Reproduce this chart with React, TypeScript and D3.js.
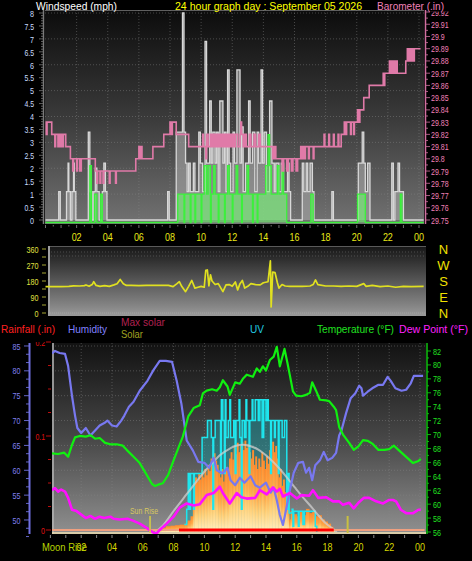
import React from 'react';
import * as d3 from 'd3';

const W = 472;
const H = 561;
const FONT = '"Liberation Sans", Arial, sans-serif';

// ---------- axis ticks / labels ----------
const hourTicks = [2, 4, 6, 8, 10, 12, 14, 16, 18, 20, 22, 24];
const hourLabels = ['02', '04', '06', '08', '10', '12', '14', '16', '18', '20', '22', '00'];
const windTicks = [0, 0.5, 1, 1.5, 2, 2.5, 3, 3.5, 4, 4.5, 5, 5.5, 6, 6.5, 7, 7.5, 8];
const baroTicks = [29.75, 29.76, 29.77, 29.78, 29.79, 29.8, 29.81, 29.82, 29.83, 29.84, 29.85, 29.86, 29.87, 29.88, 29.89, 29.9, 29.91, 29.92];
const dirTicks = [0, 90, 180, 270, 360];
const compassLabels = ['N', 'W', 'S', 'E', 'N'];
const humTicks = [50, 55, 60, 65, 70, 75, 80, 85];
const tempTicks = [56, 58, 60, 62, 64, 66, 68, 70, 72, 74, 76, 78, 80, 82];
const rainTicks = [0, 0.1, 0.2];
const sunTimes = [6.47, 19.3];

// ---------- top panel: wind gust (grey), wind speed (green), barometer (pink) ----------
const gustSteps: [number, number][] = [
  [0, 0], [0.85, 1.1], [0.95, 0], [1.35, 1.1], [1.45, 2.2], [1.5, 1.1], [1.6, 0], [1.7, 1.1], [1.8, 2.2], [1.85, 1.1], [1.95, 0],
  [2.75, 3.4], [2.85, 1.1], [3.0, 0], [3.1, 1.1], [3.2, 2.0], [3.3, 1.1], [3.45, 0], [3.65, 1.1], [3.75, 2.2], [3.85, 1.1], [3.95, 0],
  [7.85, 1.1], [7.95, 0],
  [8.4, 3.4], [8.8, 8], [8.9, 3.4], [9.0, 2.2], [9.1, 1.1], [9.2, 2.2], [9.3, 1.1], [9.5, 2.2], [9.6, 1.1], [9.85, 3.4], [9.95, 2.2],
  [10.1, 1.1], [10.25, 6.9], [10.35, 2.2], [10.55, 4.6], [10.65, 2.2], [10.75, 3.4], [10.9, 2.2], [11.0, 3.4], [11.1, 1.1], [11.2, 4.6],
  [11.4, 2.2], [11.5, 3.4], [11.6, 1.1], [11.7, 5.8], [11.8, 2.2], [11.9, 1.1], [12.05, 3.4], [12.15, 2.2], [12.3, 5.8], [12.5, 2.2],
  [12.6, 3.6], [12.7, 1.1], [12.85, 2.2], [13.05, 4.6], [13.15, 2.2], [13.3, 3.4], [13.45, 1.1], [13.6, 3.4], [13.7, 2.2], [13.85, 5.8],
  [13.95, 2.2], [14.05, 3.4], [14.2, 1.1], [14.4, 4.6], [14.55, 2.2], [14.7, 1.1], [14.8, 2.2], [15.0, 1.1], [15.15, 2.2], [15.3, 1.1],
  [15.55, 2.2], [15.65, 1.1], [15.75, 0],
  [16.5, 2.2], [16.6, 1.1], [16.75, 2.2], [16.85, 1.1], [17.0, 2.2], [17.15, 1.1], [17.25, 0],
  [18.4, 1.1], [18.5, 0],
  [20.1, 2.2], [20.35, 3.4], [20.45, 2.2], [20.55, 1.1], [20.7, 2.2], [20.85, 0],
  [22.25, 2.2], [22.35, 0], [22.45, 1.1], [22.65, 2.2], [22.75, 1.1], [23.0, 0], [24.3, 0],
];

const speedSteps: [number, number][] = [
  [0, 0], [2.85, 2.2], [2.95, 0], [3.15, 1.1], [3.3, 0], [3.55, 1.1], [3.65, 0],
  [8.5, 1.1], [8.9, 0], [8.95, 1.1], [9.3, 0], [9.35, 1.1], [9.6, 0], [9.65, 1.1], [10.0, 0], [10.05, 1.1], [10.2, 2.2], [10.35, 1.1],
  [10.45, 2.2], [10.6, 0], [10.65, 1.1], [10.8, 2.2], [10.9, 1.1], [11.1, 0], [11.15, 1.1], [11.5, 0], [11.55, 1.1], [11.7, 2.2],
  [11.8, 1.1], [12.0, 0], [12.05, 1.1], [12.25, 2.2], [12.35, 1.1], [12.6, 0], [12.65, 1.1], [12.95, 2.2], [13.05, 1.1], [13.3, 0],
  [13.35, 1.1], [13.6, 0], [13.65, 1.1], [14.15, 2.2], [14.3, 3.4], [14.4, 2.2], [14.5, 1.1], [14.9, 2.2], [15.0, 1.1], [15.2, 2.2],
  [15.3, 1.1], [15.5, 0],
  [17.05, 1.1], [17.2, 0], [20.05, 1.1], [20.55, 0], [22.8, 1.1], [22.9, 0], [24.3, 0],
];

const baroSteps: [number, number][] = [
  [0, 29.83], [0.05, 29.82], [0.1, 29.83], [0.4, 29.82], [0.6, 29.81], [0.65, 29.82], [0.8, 29.81], [0.85, 29.82], [0.95, 29.81],
  [1.0, 29.82], [1.1, 29.81], [1.15, 29.82], [1.3, 29.81], [1.6, 29.8], [1.75, 29.79], [1.8, 29.8], [2.0, 29.79], [2.05, 29.8],
  [2.2, 29.79], [2.3, 29.8], [3.2, 29.79], [3.3, 29.78], [3.35, 29.79], [3.5, 29.78], [3.55, 29.79], [3.7, 29.78], [3.75, 29.79],
  [4.1, 29.78], [4.15, 29.79], [4.5, 29.78], [4.55, 29.79], [5.8, 29.8], [6.0, 29.81], [6.05, 29.8], [6.15, 29.81], [6.2, 29.8],
  [6.9, 29.81], [7.6, 29.82], [8.0, 29.83], [8.1, 29.82], [8.15, 29.83], [8.4, 29.82], [9.2, 29.81], [10.1, 29.82], [10.15, 29.81],
  [10.3, 29.8], [10.35, 29.82], [10.45, 29.81], [10.6, 29.82], [10.7, 29.81], [10.8, 29.82], [10.9, 29.81], [11.0, 29.82],
  [11.1, 29.81], [11.2, 29.82], [11.3, 29.81], [11.4, 29.82], [11.5, 29.81], [11.6, 29.82], [11.7, 29.81], [11.8, 29.82],
  [11.9, 29.81], [12.0, 29.82], [12.1, 29.81], [12.2, 29.82], [12.35, 29.81], [12.5, 29.82], [12.55, 29.83], [12.6, 29.82],
  [12.7, 29.81], [12.8, 29.82], [12.9, 29.81], [13.1, 29.82], [13.2, 29.81], [13.4, 29.82], [13.5, 29.81], [13.7, 29.82],
  [13.8, 29.81], [14.6, 29.8], [14.7, 29.81], [14.8, 29.8], [15.2, 29.79], [15.3, 29.8], [15.5, 29.79], [15.6, 29.8],
  [15.8, 29.79], [15.9, 29.8], [16.1, 29.79], [16.2, 29.8], [16.4, 29.81], [16.45, 29.8], [16.55, 29.81], [16.6, 29.8],
  [16.7, 29.81], [16.9, 29.8], [16.95, 29.81], [17.2, 29.8], [17.25, 29.81], [17.9, 29.82], [17.95, 29.81], [18.2, 29.82],
  [18.25, 29.81], [18.5, 29.82], [18.55, 29.81], [18.8, 29.82], [18.85, 29.81], [19.0, 29.82], [19.2, 29.83], [19.3, 29.82],
  [19.35, 29.83], [19.6, 29.82], [19.65, 29.83], [19.8, 29.82], [19.85, 29.83], [20.05, 29.84], [20.15, 29.83], [20.2, 29.84],
  [20.45, 29.85], [20.8, 29.86], [21.7, 29.87], [21.75, 29.86], [21.8, 29.87], [22.1, 29.88], [22.15, 29.87], [22.25, 29.88],
  [22.3, 29.87], [22.4, 29.88], [22.45, 29.87], [22.55, 29.88], [22.6, 29.87], [23.15, 29.88], [23.25, 29.89], [23.3, 29.88],
  [23.4, 29.89], [23.45, 29.88], [23.55, 29.89], [23.6, 29.88], [23.7, 29.89], [24.1, 29.89],
];

// ---------- middle panel: wind direction ----------
const windDir: [number, number][] = [
  [0, 148], [0.5, 148], [1.0, 148], [1.5, 150], [1.8, 153], [2.2, 152], [2.5, 154], [2.6, 158], [2.8, 150], [3.0, 160], [3.1, 176],
  [3.25, 155], [3.5, 150], [3.8, 154], [4.1, 150], [4.4, 158], [4.6, 165], [4.8, 189], [5.0, 165], [5.2, 155], [5.5, 155], [6.0, 154],
  [6.5, 155], [7.0, 155], [7.5, 155], [7.9, 155], [8.2, 148], [8.45, 165], [8.6, 176], [8.75, 150], [9.0, 120], [9.2, 150], [9.4, 183],
  [9.6, 140], [9.8, 145], [10.0, 150], [10.2, 145], [10.3, 240], [10.4, 242], [10.5, 152], [10.6, 215], [10.7, 180], [10.9, 160],
  [11.1, 165], [11.4, 120], [11.6, 158], [11.8, 160], [12.0, 150], [12.2, 175], [12.35, 130], [12.5, 165], [12.65, 183], [12.8, 140],
  [13.0, 150], [13.2, 165], [13.5, 160], [13.8, 158], [14.0, 170], [14.3, 176], [14.45, 294], [14.5, 34], [14.6, 230], [14.75, 227],
  [14.9, 170], [15.0, 140], [15.2, 160], [15.4, 152], [15.7, 150], [16.0, 150], [16.5, 150], [17.0, 152], [17.2, 160], [17.35, 186],
  [17.5, 160], [18.0, 152], [18.5, 152], [19.0, 150], [19.5, 152], [20.0, 150], [20.45, 165], [20.6, 150], [21.0, 155], [21.5, 148],
  [22.0, 152], [22.5, 145], [23.0, 150], [23.5, 148], [24.3, 150],
];

// ---------- bottom panel ----------
const humidity: [number, number][] = [
  [0.1, 83.5], [0.3, 84], [0.6, 83.6], [0.95, 83.4], [1.15, 81], [1.4, 75], [1.6, 71], [1.75, 68.5], [2.0, 67.5], [2.3, 68.5],
  [2.6, 67], [2.9, 68], [3.2, 69], [3.5, 69.5], [3.7, 70], [4.0, 69], [4.3, 68.8], [4.6, 70], [4.8, 71], [5.1, 72.8], [5.4, 73.8],
  [5.8, 76], [6.3, 78], [6.7, 80.2], [7.1, 82], [7.5, 82], [7.9, 81.8], [8.2, 78], [8.5, 73.5], [8.85, 66], [9.25, 64], [9.6, 61.7],
  [10.0, 61.5], [10.3, 60.5], [10.6, 62.5], [10.8, 60], [11.2, 59.4], [11.5, 60.5], [11.7, 58], [12.0, 57], [12.3, 58.5],
  [12.6, 57.5], [13.0, 58.8], [13.3, 57], [13.6, 56.5], [14.0, 57.5], [14.3, 55.5], [14.5, 56.5], [14.7, 54], [14.9, 51],
  [15.1, 49], [15.3, 52], [15.55, 56], [15.8, 59.5], [16.1, 61.5], [16.4, 61.7], [16.6, 59.5], [16.8, 60.5], [17.0, 58],
  [17.2, 61], [17.5, 62], [17.75, 63.7], [18.0, 62], [18.3, 62.5], [18.55, 63.5], [18.75, 67], [18.9, 68], [19.2, 71.5],
  [19.5, 74.5], [19.8, 75.5], [20.05, 77], [20.2, 76.5], [20.3, 75], [20.6, 75.8], [20.9, 76.5], [21.3, 77.2], [21.6, 77.2],
  [21.9, 78.8], [22.1, 78], [22.4, 76.5], [22.8, 76], [23.1, 76.2], [23.4, 77.5], [23.6, 79], [24.2, 79],
];

const temperature: [number, number][] = [
  [0.1, 67.3], [0.5, 67.2], [0.9, 67.4], [1.15, 66.8], [1.4, 68.5], [1.6, 69.6], [1.9, 69.8], [2.3, 69.7], [2.6, 69.9], [2.9, 69.4],
  [3.2, 69.5], [3.55, 68.8], [3.9, 68.6], [4.3, 68.6], [4.7, 68.4], [4.95, 67.8], [5.4, 66.8], [5.8, 65.9], [6.25, 64.2],
  [6.6, 62.9], [6.8, 62.6], [7.0, 62.8], [7.3, 63.0], [7.65, 64.2], [7.95, 66], [8.3, 68], [8.6, 69.7], [8.95, 72.6], [9.3, 73.8],
  [9.7, 74.2], [9.9, 75.9], [10.15, 76.3], [10.5, 76.5], [10.8, 76.3], [11.0, 76.8], [11.2, 77.8], [11.5, 76.9], [11.65, 75.7],
  [12.0, 77.5], [12.3, 77.3], [12.5, 78.0], [12.75, 78.6], [13.15, 78.3], [13.4, 79.5], [13.6, 79.0], [13.8, 79.8], [14.0, 79.2],
  [14.25, 80.7], [14.5, 81.2], [14.7, 82.6], [14.9, 79.8], [15.2, 82.3], [15.4, 80.2], [15.55, 78.5], [15.75, 76.2], [15.95, 75.6],
  [16.3, 75.5], [16.6, 75.7], [16.85, 76.0], [17.0, 77.5], [17.25, 76.3], [17.5, 75.0], [17.9, 74.9], [18.1, 74.8], [18.4, 74.0],
  [18.55, 73.5], [18.75, 71.1], [19.0, 70.0], [19.4, 68.8], [19.7, 67.8], [20.0, 68.3], [20.3, 69.2], [20.6, 69.1], [20.9, 68.7],
  [21.3, 67.8], [21.7, 67.8], [22.0, 67.9], [22.3, 68.4], [22.6, 67.8], [23.1, 66.8], [23.55, 65.9], [23.9, 66.2], [24.05, 66.5],
];

const dewPoint: [number, number][] = [
  [0.1, 62.0], [0.3, 62.3], [0.5, 61.8], [0.7, 62.1], [0.95, 61.8], [1.15, 60.9], [1.4, 59.2], [1.7, 59.0], [2.0, 58.5], [2.3, 58.0],
  [2.6, 58.3], [2.9, 57.9], [3.2, 58.2], [3.5, 58.0], [3.9, 58.2], [4.1, 57.9], [4.5, 57.8], [5.0, 57.9], [5.4, 57.6], [5.8, 57.2],
  [6.25, 56.6], [6.7, 55.9], [6.9, 55.8], [7.1, 56.3], [7.55, 57.2], [8.0, 58.2], [8.4, 59.5], [8.85, 60.1], [9.3, 59.8], [9.7, 60.0],
  [10.15, 61.3], [10.6, 61.6], [11.0, 62.5], [11.2, 61.6], [11.65, 60.1], [12.1, 61.6], [12.4, 61.0], [12.75, 60.8], [13.3, 60.9],
  [13.6, 62.0], [14.05, 61.4], [14.45, 62.4], [14.7, 61.8], [14.9, 62.2], [15.1, 61.1], [15.55, 61.6], [16.0, 60.8], [16.3, 61.3],
  [16.8, 61.2], [17.05, 62.0], [17.4, 60.9], [17.9, 61.0], [18.35, 60.4], [18.75, 60.4], [19.0, 59.9], [19.4, 60.2], [19.7, 59.4],
  [20.0, 60.2], [20.35, 60.9], [20.7, 60.9], [21.15, 60.4], [21.6, 60.1], [22.0, 60.6], [22.25, 60.6], [22.45, 60.4], [22.75, 59.2],
  [23.1, 58.7], [23.55, 58.7], [23.9, 59.2], [24.05, 59.2],
];

const uvSteps: [number, number][] = [
  [0, 0], [8.7, 0.4], [8.85, 1.2], [8.95, 3.1], [9.05, 1.2], [9.1, 3.1], [9.3, 1.2], [9.35, 3.1], [9.85, 5.0], [10.2, 5.9],
  [10.45, 5.0], [10.55, 1.2], [10.6, 5.0], [10.7, 5.9], [11.05, 3.1], [11.1, 7.0], [11.2, 5.9], [11.3, 3.1], [11.35, 7.0],
  [11.4, 5.0], [11.55, 5.9], [11.65, 7.0], [11.7, 5.0], [11.9, 5.9], [12.0, 3.1], [12.05, 5.9], [12.25, 7.0], [12.3, 5.0],
  [12.4, 1.2], [12.45, 5.9], [12.6, 5.0], [12.7, 7.0], [12.75, 5.9], [12.9, 3.1], [12.95, 5.9], [13.1, 7.0], [13.15, 5.9],
  [13.3, 7.0], [13.5, 5.9], [13.6, 7.0], [13.75, 5.0], [13.85, 7.0], [14.0, 5.9], [14.1, 7.0], [14.15, 5.9], [14.3, 3.1],
  [14.35, 5.9], [14.55, 5.0], [14.6, 5.9], [14.8, 3.1], [14.85, 5.9], [15.05, 5.0], [15.2, 5.9], [15.35, 1.2], [15.45, 3.1],
  [15.5, 1.0], [15.7, 1.2], [15.75, 0.3], [15.8, 1.1], [16.1, 0.3], [16.15, 1.1], [16.4, 0.4], [16.5, 1.1], [17.2, 0.3], [17.3, 0],
  [24.3, 0],
];

const solar: [number, number][] = [
  [6.9, 20], [7.2, 40], [7.5, 55], [7.8, 60], [8.1, 65], [8.4, 70], [8.7, 80], [8.9, 110], [9.1, 150], [9.25, 300], [9.35, 520],
  [9.5, 480], [9.6, 560], [9.7, 500], [9.8, 590], [9.9, 520], [10.0, 600], [10.1, 540], [10.2, 640], [10.3, 580], [10.4, 700],
  [10.5, 620], [10.6, 750], [10.7, 680], [10.8, 640], [10.9, 560], [11.0, 520], [11.1, 600], [11.2, 480], [11.3, 560], [11.4, 620],
  [11.5, 540], [11.6, 700], [11.7, 760], [11.8, 690], [11.9, 820], [12.0, 740], [12.1, 850], [12.2, 760], [12.3, 820], [12.4, 860],
  [12.5, 780], [12.6, 870], [12.7, 800], [12.8, 840], [12.9, 760], [13.0, 700], [13.1, 780], [13.2, 640], [13.3, 720], [13.4, 600],
  [13.5, 700], [13.6, 620], [13.7, 760], [13.8, 680], [13.9, 600], [14.0, 720], [14.1, 650], [14.2, 780], [14.3, 720], [14.4, 860],
  [14.5, 760], [14.6, 820], [14.7, 700], [14.8, 520], [14.9, 600], [15.0, 440], [15.1, 500], [15.2, 380], [15.3, 460], [15.4, 300],
  [15.5, 120], [15.6, 200], [15.7, 130], [15.8, 170], [16.0, 150], [16.2, 190], [16.4, 160], [16.6, 220], [16.8, 180], [17.0, 200],
  [17.2, 150], [17.4, 160], [17.6, 120], [17.8, 100], [18.0, 80], [18.2, 50], [18.35, 20], [18.45, 0],
];

const maxSolar: [number, number][] = [
  [6.8, 0], [7.3, 60], [8.0, 200], [8.85, 360], [9.7, 520], [10.15, 600], [10.6, 670], [11.0, 730], [11.65, 795], [12.05, 822],
  [12.5, 830], [12.9, 822], [13.5, 785], [14.2, 705], [14.9, 600], [15.3, 530], [15.9, 420], [16.4, 330], [17.0, 230],
  [17.45, 150], [17.9, 80], [18.35, 30], [18.6, 0],
];

const rainfall: [number, number][] = [[0, 0], [24.3, 0]];
const rainMarked: [number, number][] = [[8.35, 0], [18.4, 0]];

// ---------- scales ----------
const xTop = d3.scaleLinear().domain([0, 24]).range([45.5, 419]);
const yWind = d3.scaleLinear().domain([0, 8]).range([220, 13]);
const yBaro = d3.scaleLinear().domain([29.75, 29.92]).range([220, 12]);
const yDir = d3.scaleLinear().domain([0, 360]).range([313, 249]);
const xBot = d3.scaleLinear().domain([0, 24]).range([50.4, 420]);
const yHum = d3.scaleLinear().domain([50, 85]).range([520, 346]);
const yTemp = d3.scaleLinear().domain([56, 82]).range([532, 351]);
const yRain = d3.scaleLinear().domain([0, 0.2]).range([530, 342]);
const yUV = d3.scaleLinear().domain([0, 10]).range([532, 343]);
const ySolar = d3.scaleLinear().domain([0, 1800]).range([532, 343]);

const TOP = { x0: 45, x1: 424, y0: 10, y1: 224 };
const MID = { x0: 48, x1: 426, y0: 246, y1: 316 };
const BOT = { x0: 52, x1: 426, y0: 343, y1: 534 };

type P = [number, number];
const stepLine = (xs: any, ys: any) => d3.line<P>().x(d => xs(d[0])).y(d => ys(d[1])).curve(d3.curveStepAfter);
const stepArea = (xs: any, ys: any, base: number) =>
  d3.area<P>().x(d => xs(d[0])).y0(base).y1(d => ys(d[1])).curve(d3.curveStepAfter);
const plainLine = (xs: any, ys: any) => d3.line<P>().x(d => xs(d[0])).y(d => ys(d[1]));

// width of the narrow bitmap-like numerals used on the axes
const numWidth = (s: string, dw: number) => s.split('').reduce((a, c) => a + (c === '.' ? 1.6 : dw), 0);

function NumText(props: { x: number; y: number; s: string; fill: string; anchor?: string; dw?: number; size?: number }) {
  const { x, y, s, fill, anchor = 'start', dw = 4, size = 9.5 } = props;
  return (
    <text x={x} y={y} fontSize={size} fill={fill} textAnchor={anchor} textLength={numWidth(s, dw)} lengthAdjust="spacingAndGlyphs">
      {s}
    </text>
  );
}

function FitText(props: { x: number; y: number; s: string; fill: string; len: number; size?: number }) {
  const { x, y, s, fill, len, size = 11 } = props;
  return (
    <text x={x} y={y} fontSize={size} fill={fill} textLength={len} lengthAdjust="spacingAndGlyphs">
      {s}
    </text>
  );
}

export default function App() {
  const fmtWind = (v: number) => (Number.isInteger(v) ? String(v) : v.toFixed(1));
  const fmtBaro = (v: number) => String(+v.toFixed(2));
  const halfHours = d3.range(0, 24.01, 0.5);
  const hours = d3.range(0, 25, 1);
  const windMinor = d3.range(0, 8.001, 0.1);
  const baroMinor = d3.range(29.75, 29.9201, 0.005);
  const humMinor = d3.range(46.67, 85.01, 5 / 3);
  const tempMinor = d3.range(56, 82.01, 1);
  const rainMinor = d3.range(0, 0.2001, 0.025);
  const dirMinor = d3.range(0, 360.1, 45);

  const solarBars = solar.slice(0, -1).map((d, i) => {
    const x0 = xBot(d[0]);
    const x1 = xBot(solar[i + 1][0]);
    const y = ySolar(d[1]);
    return { x: x0, w: Math.max(0.5, x1 - x0 + 0.4), y, h: ySolar(0) - y };
  });

  return (
    <svg width={W} height={H} style={{ position: 'absolute', left: 0, top: 0, background: '#000' }} fontFamily={FONT}>
      <defs>
        <linearGradient id="bgTop" x1="0" y1="0" x2="0" y2="1">
          <stop offset="0" stopColor="#0c0c0c" />
          <stop offset="0.5" stopColor="#3a3a3a" />
          <stop offset="1" stopColor="#727272" />
        </linearGradient>
        <linearGradient id="bgMid" x1="0" y1="0" x2="0" y2="1">
          <stop offset="0" stopColor="#161616" />
          <stop offset="0.85" stopColor="#848484" />
          <stop offset="1" stopColor="#9a9a9a" />
        </linearGradient>
        <linearGradient id="bgBot" x1="0" y1="0" x2="0" y2="1">
          <stop offset="0" stopColor="#121212" />
          <stop offset="0.5" stopColor="#474747" />
          <stop offset="1" stopColor="#909090" />
        </linearGradient>
        <linearGradient id="solarGrad" x1="0" y1="0" x2="0" y2="1">
          <stop offset="0" stopColor="#ff8a2c" />
          <stop offset="0.45" stopColor="#ffa848" />
          <stop offset="0.7" stopColor="#ffd078" />
          <stop offset="1" stopColor="#fff0c0" />
        </linearGradient>
        <clipPath id="clipBot">
          <rect x={BOT.x0} y={BOT.y0} width={BOT.x1 - BOT.x0} height={BOT.y1 - BOT.y0} />
        </clipPath>
        <clipPath id="clipRainLbl">
          <rect x={0} y={342} width={52} height={200} />
        </clipPath>
        <clipPath id="clipBaroLbl">
          <rect x={428} y={11.5} width={44} height={220} />
        </clipPath>
      </defs>

      {/* ================= TOP PANEL ================= */}
      <rect x={TOP.x0} y={TOP.y0} width={TOP.x1 - TOP.x0} height={TOP.y1 - TOP.y0} fill="url(#bgTop)" />
      <line x1={TOP.x0} x2={TOP.x1} y1={TOP.y0 + 0.5} y2={TOP.y0 + 0.5} stroke="#606060" />
      {d3.range(1, 9).map(v => (
        <line key={'hg' + v} x1={TOP.x0} x2={TOP.x1} y1={yWind(v)} y2={yWind(v)} stroke="#8a8a8a" strokeOpacity={0.45} strokeDasharray="1 2" />
      ))}
      {hourTicks.map(h => (
        <line key={'vg' + h} x1={xTop(h)} x2={xTop(h)} y1={TOP.y0} y2={TOP.y1} stroke="#8a8a8a" strokeOpacity={0.45} strokeDasharray="1 2" />
      ))}

      {/* gust */}
      <path d={stepArea(xTop, yWind, yWind(0))(gustSteps) || ''} fill="#a8a8a8" fillOpacity={0.6} />
      <path d={stepLine(xTop, yWind)(gustSteps) || ''} fill="none" stroke="#d8d8d8" strokeWidth={1.3} />
      {/* average speed */}
      <g transform="translate(0,2.5)">
        <path d={stepArea(xTop, yWind, yWind(0))(speedSteps) || ''} fill="#70ff70" fillOpacity={0.55} />
        <path d={stepLine(xTop, yWind)(speedSteps) || ''} fill="none" stroke="#3cf03c" strokeWidth={1.3} />
      </g>
      {/* barometer */}
      <path d={stepLine(xTop, yBaro)(baroSteps) || ''} fill="none" stroke="#e07aa8" strokeWidth={1.6} />

      {/* left wind axis */}
      <line x1={43.5} x2={43.5} y1={TOP.y0} y2={TOP.y1} stroke="#7a7a7a" strokeWidth={1.5} />
      {windMinor.map((v, i) => (
        <line key={'wm' + i} x1={i % 5 === 0 ? 39 : 41} x2={43} y1={yWind(v)} y2={yWind(v)} stroke="#777" strokeWidth={0.8} />
      ))}
      {windTicks.map(v => (
        <NumText key={'wt' + v} x={34} y={yWind(v) + 3.8} s={fmtWind(v)} fill="#c8dcff" anchor="end" />
      ))}
      {/* right baro axis */}
      <line x1={425.5} x2={425.5} y1={TOP.y0} y2={TOP.y1} stroke="#d070a0" strokeWidth={1.5} />
      {baroMinor.map((v, i) => (
        <line key={'bm' + i} x1={426} x2={i % 2 === 0 ? 430 : 428} y1={yBaro(v)} y2={yBaro(v)} stroke="#d070a0" strokeWidth={0.8} />
      ))}
      <g clipPath="url(#clipBaroLbl)">
        {baroTicks.map(v => (
          <NumText key={'bt' + v} x={431} y={yBaro(v) + 3.5} s={fmtBaro(v)} fill="#f080b8" />
        ))}
      </g>
      {/* x ticks */}
      {halfHours.map((h, i) => (
        <line key={'tt' + i} x1={xTop(h)} x2={xTop(h)} y1={225} y2={i % 2 === 0 ? 228 : 226.5} stroke="#707070" />
      ))}
      {hourTicks.map((h, i) => (
        <NumText key={'tl' + h} x={xTop(h)} y={241} s={hourLabels[i]} fill="#e8e818" anchor="middle" dw={5} size={11} />
      ))}
      {/* titles */}
      <FitText x={36} y={9.5} s="Windspeed (mph)" fill="#ffffff" len={81} />
      <FitText x={175} y={9.5} s="24 hour graph day : September 05 2026" fill="#ffff00" len={187} />
      <FitText x={377} y={9.5} s="Barometer (.in)" fill="#f080b8" len={67} />

      {/* ================= MIDDLE PANEL ================= */}
      <rect x={MID.x0} y={MID.y0} width={MID.x1 - MID.x0} height={MID.y1 - MID.y0} fill="url(#bgMid)" />
      <line x1={MID.x0} x2={MID.x1} y1={MID.y0 + 0.5} y2={MID.y0 + 0.5} stroke="#5a5a5a" />
      {[252, 256].map(y => (
        <line key={'mg' + y} x1={MID.x0} x2={MID.x1} y1={y} y2={y} stroke="#777" strokeOpacity={0.5} strokeDasharray="1 2" />
      ))}
      <line x1={MID.x0 + 1} x2={MID.x0 + 1} y1={MID.y0} y2={MID.y1} stroke="#a0a0a0" strokeWidth={2} />
      <line x1={MID.x0} x2={MID.x1} y1={313} y2={313} stroke="#b0b0b0" strokeOpacity={0.6} strokeDasharray="1 1" />
      <path d={plainLine(xTop, yDir)(windDir) || ''} fill="none" stroke="#e0e020" strokeWidth={1.7} strokeLinejoin="round" />
      {dirMinor.map(v => (
        <line key={'dm' + v} x1={42} x2={46} y1={yDir(v)} y2={yDir(v)} stroke="#d0d040" strokeWidth={0.8} />
      ))}
      {dirTicks.map(v => (
        <NumText key={'dt' + v} x={38.5} y={yDir(v) + 3.5} s={String(v)} fill="#e0e040" anchor="end" />
      ))}
      {compassLabels.map((c, i) => (
        <text key={'cl' + i} x={443.5} y={yDir(dirTicks[4 - i]) + 5} fontSize={13} fill="#f0e000" textAnchor="middle">{c}</text>
      ))}

      {/* ================= LEGENDS ================= */}
      <FitText x={1} y={333} s="Rainfall (.in)" fill="#ff2020" len={54} />
      <FitText x={68} y={333} s="Humidity" fill="#8080ff" len={39} />
      <FitText x={121} y={326} s="Max solar" fill="#b02050" len={44} />
      <FitText x={121} y={338} s="Solar" fill="#a0a020" len={22} />
      <FitText x={250} y={333} s="UV" fill="#20c8e0" len={14} />
      <FitText x={317} y={333} s="Temperature (°F)" fill="#20e020" len={77} />
      <FitText x={399} y={333} s="Dew Point (°F)" fill="#ff20ff" len={69} />

      {/* ================= BOTTOM PANEL ================= */}
      <rect x={BOT.x0} y={BOT.y0} width={BOT.x1 - BOT.x0} height={BOT.y1 - BOT.y0} fill="url(#bgBot)" />
      {humTicks.slice(1).map(v => (
        <line key={'bh' + v} x1={BOT.x0} x2={BOT.x1} y1={yHum(v)} y2={yHum(v)} stroke="#8a8a8a" strokeOpacity={0.45} strokeDasharray="1 2" />
      ))}
      {hourTicks.map(h => (
        <line key={'bv' + h} x1={xBot(h)} x2={xBot(h)} y1={BOT.y0} y2={BOT.y1} stroke="#8a8a8a" strokeOpacity={0.45} strokeDasharray="1 2" />
      ))}
      <line x1={BOT.x0 + 1} x2={BOT.x0 + 1} y1={BOT.y0} y2={BOT.y1} stroke="#b0b0b0" strokeWidth={2} strokeOpacity={0.8} />

      <g clipPath="url(#clipBot)">
        {/* UV fill */}
        <path d={stepArea(xBot, yUV, yUV(0))(uvSteps) || ''} fill="#12a0a8" fillOpacity={0.45} />
        {/* solar bars */}
        {solarBars.map((b, i) => (
          <rect key={'sb' + i} x={b.x} y={b.y} width={b.w} height={b.h} fill="url(#solarGrad)" />
        ))}
        {/* UV stroke */}
        <path d={stepLine(xBot, yUV)(uvSteps.filter(d => d[0] > 8 && d[0] < 17.5)) || ''} fill="none" stroke="#1ee6ee" strokeWidth={1.5} />
        {/* max solar */}
        <path d={plainLine(xBot, ySolar).curve(d3.curveMonotoneX)(maxSolar) || ''} fill="none" stroke="#d0d0d0" strokeOpacity={0.75} strokeWidth={2} />
        {/* rainfall */}
        <path d={plainLine(xBot, yRain)(rainfall) || ''} fill="none" stroke="#f0a080" strokeWidth={2} />
        <path d={plainLine(xBot, yRain)(rainMarked) || ''} fill="none" stroke="#ff0000" strokeWidth={3} />
        <line x1={BOT.x0} x2={BOT.x1} y1={533} y2={533} stroke="#f0e0b0" strokeWidth={1.5} />
        {/* humidity */}
        <path d={plainLine(xBot, yHum)(humidity) || ''} fill="none" stroke="#7878f0" strokeWidth={2.2} strokeLinejoin="round" />
        {/* temperature */}
        <path d={plainLine(xBot, yTemp)(temperature) || ''} fill="none" stroke="#10f010" strokeWidth={2.2} strokeLinejoin="round" />
        {/* dew point */}
        <path d={plainLine(xBot, yTemp)(dewPoint) || ''} fill="none" stroke="#ff10ff" strokeWidth={2.6} strokeLinejoin="round" />
      </g>

      {/* sunrise / sunset */}
      <line x1={xBot(sunTimes[0])} x2={xBot(sunTimes[0])} y1={516} y2={533} stroke="#d8d040" strokeWidth={1.5} />
      <line x1={xBot(sunTimes[1])} x2={xBot(sunTimes[1])} y1={516} y2={533} stroke="#c8c040" strokeWidth={2} />
      <FitText x={130} y={514} s="Sun Rise" fill="#d8c860" len={28} size={9.5} />

      {/* humidity axis */}
      <line x1={29.5} x2={29.5} y1={BOT.y0} y2={BOT.y1} stroke="#7070e0" strokeWidth={2} />
      {humMinor.map((v, i) => (
        <line key={'hm' + i} x1={i % 3 === 2 ? 24 : 26} x2={29} y1={yHum(v)} y2={yHum(v)} stroke="#7070e0" strokeWidth={0.9} />
      ))}
      {humTicks.map(v => (
        <NumText key={'hl' + v} x={20.5} y={yHum(v) + 3.5} s={String(v)} fill="#8080f0" anchor="end" />
      ))}
      {/* rain axis */}
      {rainMinor.map((v, i) => (
        <line key={'rm' + i} x1={i % 4 === 0 ? 46 : 48} x2={51} y1={yRain(v)} y2={yRain(v)} stroke="#d01010" strokeWidth={0.9} />
      ))}
      <g clipPath="url(#clipRainLbl)">
        {rainTicks.map(v => (
          <NumText key={'rl' + v} x={45} y={yRain(v) + 3.5} s={String(v)} fill="#e01010" anchor="end" />
        ))}
      </g>
      {/* temperature axis */}
      <line x1={427} x2={427} y1={BOT.y0} y2={BOT.y1} stroke="#10c010" strokeWidth={1.5} />
      {tempMinor.map((v, i) => (
        <line key={'tm' + i} x1={427} x2={i % 2 === 0 ? 431 : 429} y1={yTemp(v)} y2={yTemp(v)} stroke="#10c010" strokeWidth={0.9} />
      ))}
      {tempTicks.map(v => (
        <NumText key={'tl2' + v} x={433} y={yTemp(v) + 3.5} s={String(v)} fill="#20e020" />
      ))}
      {/* bottom x axis */}
      {hours.map(h => (
        <line key={'bx' + h} x1={xBot(h)} x2={xBot(h)} y1={535} y2={538} stroke="#8a8a8a" />
      ))}
      {hourTicks.map((h, i) => (
        <NumText key={'bl' + h} x={xBot(h)} y={551} s={hourLabels[i]} fill="#d8d800" anchor="middle" dw={5} size={11} />
      ))}
      <FitText x={42} y={551} s="Moon Rise" fill="#b8d400" len={45} />
    </svg>
  );
}
